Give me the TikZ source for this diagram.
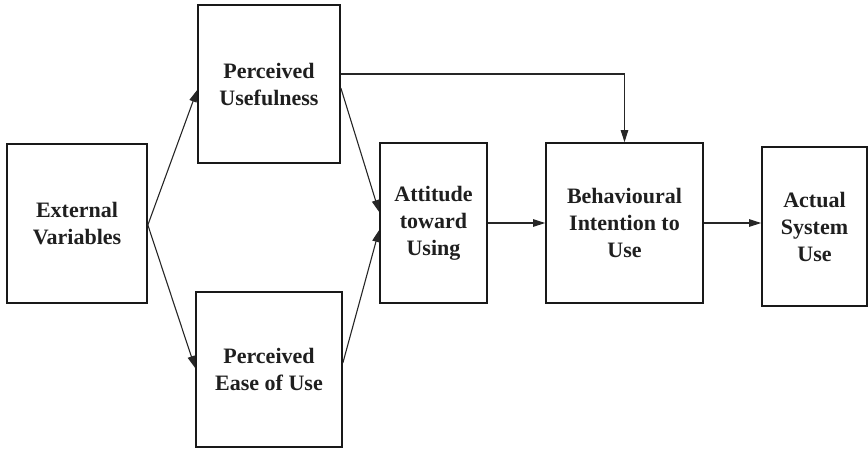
\documentclass[tikz,border=0pt]{standalone}
\usepackage{fontspec}
\setmainfont{Liberation Serif}
\usetikzlibrary{arrows.meta,calc}
\begin{document}
\begin{tikzpicture}[x=1pt,y=-1pt,
  box/.style={draw=black!90, line width=1.7pt, rectangle, inner sep=0pt, align=center,
    font=\fontsize{22}{27}\selectfont\bfseries, text=black!88},
  conn/.style={draw=black!85, line width=1.1pt, -{Triangle[length=12pt,width=7.5pt]}}]
\useasboundingbox (0,0) rectangle (868,448);
\node[box, minimum width=140pt, minimum height=159pt] (ev) at (77,223.5) {External\\Variables};
\node[box, minimum width=142pt, minimum height=158pt] (pu) at (269,84) {Perceived\\Usefulness};
\node[box, minimum width=146pt, minimum height=155pt] (pe) at (269,369.5) {Perceived\\Ease of Use};
\node[box, minimum width=107pt, minimum height=160pt] (at) at (433.5,223) {Attitude\\toward\\Using};
\node[box, minimum width=157pt, minimum height=160pt] (bi) at (624.5,223) {Behavioural\\Intention to\\Use};
\node[box, minimum width=105pt, minimum height=159pt] (as) at (814.5,226.5) {Actual\\System\\Use};
\coordinate (evo) at ($(ev.east)+(0,1.5)$);
\draw[conn] (evo) -- ($(pu.west)+(0,6)$);
\draw[conn] (evo) -- ($(pe.west)+(0,-1.5)$);
\draw[conn] ($(pu.east)+(0,4)$) -- ($(at.west)+(0,-11)$);
\draw[conn] ($(pe.east)+(0,-6.5)$) -- ($(at.west)+(0,7)$);
\draw[conn] ($(pu.east)+(0,-10)$) -| (bi.north);
\draw[conn] (at.east) -- (bi.west);
\draw[conn] (bi.east) -- (bi.east -| as.west);
\end{tikzpicture}
\end{document}
